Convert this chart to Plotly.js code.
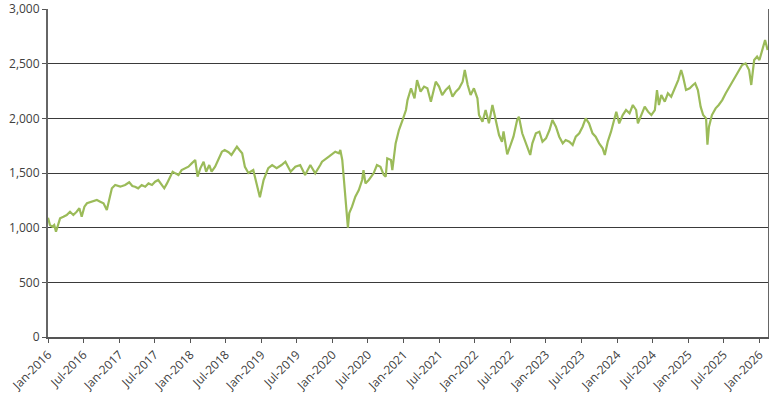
<!DOCTYPE html>
<html>
<head>
<meta charset="utf-8">
<script src="https://cdn.plot.ly/plotly-3.0.1.min.js"></script>
<style>
html,body{margin:0;padding:0;background:#fff;}
#chart{width:769px;height:398px;}
</style>
</head>
<body>
<div id="chart"></div>
<script>
const dates = [
"2016-01-01","2016-01-11","2016-01-23","2016-02-02","2016-02-11","2016-02-23","2016-03-03","2016-03-20","2016-04-06","2016-04-23",
"2016-05-10","2016-05-27","2016-06-10","2016-06-22","2016-07-06","2016-07-19","2016-08-13","2016-09-08","2016-09-25","2016-10-12",
"2016-10-29","2016-11-10","2016-11-24","2016-12-11","2017-01-06","2017-01-31","2017-02-21","2017-03-09","2017-03-23","2017-04-08",
"2017-04-26","2017-05-14","2017-05-31","2017-06-18","2017-07-04","2017-07-20","2017-08-08","2017-08-20","2017-09-03","2017-09-20",
"2017-10-02","2017-10-16","2017-11-01","2017-11-17","2017-12-05","2017-12-22","2018-01-08","2018-01-26","2018-02-07","2018-02-21",
"2018-03-10","2018-03-23","2018-04-08","2018-04-20","2018-05-08","2018-05-26","2018-06-12","2018-06-26","2018-07-16","2018-07-31",
"2018-08-28","2018-09-10","2018-09-24","2018-10-08","2018-10-26","2018-11-20","2018-12-17","2018-12-24","2019-01-12","2019-02-05",
"2019-02-25","2019-03-20","2019-04-14","2019-05-04","2019-05-31","2019-06-24","2019-07-19","2019-08-13","2019-09-09","2019-10-04",
"2019-10-30","2019-11-08","2019-12-13","2020-01-15","2020-02-03","2020-02-10","2020-02-20","2020-02-27","2020-03-06","2020-03-16",
"2020-03-20","2020-03-27","2020-04-10","2020-04-27","2020-05-15","2020-06-01","2020-06-08","2020-06-18","2020-07-05","2020-07-30",
"2020-08-16","2020-09-03","2020-09-20","2020-09-30","2020-10-08","2020-10-27","2020-11-03","2020-11-20","2020-12-07","2020-12-26",
"2021-01-12","2021-01-20","2021-02-07","2021-02-25","2021-03-10","2021-03-28","2021-04-15","2021-05-02","2021-05-20","2021-06-14",
"2021-07-01","2021-07-17","2021-08-04","2021-08-22","2021-09-08","2021-09-25","2021-10-12","2021-10-30","2021-11-10","2021-11-25",
"2021-12-10","2021-12-27","2022-01-14","2022-01-22","2022-02-09","2022-02-25","2022-03-14","2022-04-01","2022-04-16","2022-05-05",
"2022-05-20","2022-05-28","2022-06-16","2022-07-01","2022-07-18","2022-08-06","2022-08-15","2022-09-01","2022-09-20","2022-10-05",
"2022-10-12","2022-10-23","2022-11-10","2022-11-28","2022-12-14","2023-01-01","2023-01-19","2023-02-03","2023-02-21","2023-03-10",
"2023-03-28","2023-04-12","2023-05-01","2023-05-18","2023-06-03","2023-06-21","2023-07-08","2023-07-24","2023-08-10","2023-08-28",
"2023-09-13","2023-10-01","2023-10-19","2023-10-30","2023-11-14","2023-12-01","2023-12-19","2023-12-28","2024-01-12","2024-01-30",
"2024-02-16","2024-03-05","2024-03-22","2024-04-08","2024-04-17","2024-05-04","2024-05-22","2024-06-08","2024-06-25","2024-07-13",
"2024-07-24","2024-08-03","2024-08-15","2024-09-02","2024-09-18","2024-10-05","2024-10-23","2024-11-10","2024-11-25","2024-12-05",
"2024-12-20","2025-01-08","2025-01-25","2025-02-05","2025-02-19","2025-03-05","2025-03-18","2025-04-02","2025-04-09","2025-04-17",
"2025-05-02","2025-05-21","2025-06-06","2025-06-24","2025-07-12","2025-07-27","2025-08-14","2025-09-01","2025-09-19","2025-10-04",
"2025-10-22","2025-11-09","2025-11-20","2025-12-05","2025-12-20","2026-01-01","2026-01-18","2026-01-30","2026-02-12"
];
const values = [
1090,1024,1009,1024,963,1024,1085,1100,1116,1146,
1116,1146,1177,1100,1192,1223,1238,1253,1238,1223,
1161,1268,1360,1390,1375,1390,1415,1381,1375,1360,
1390,1375,1405,1390,1420,1436,1390,1360,1405,1466,
1512,1497,1482,1527,1543,1558,1588,1619,1466,1543,
1603,1512,1573,1512,1558,1634,1695,1710,1690,1665,
1740,1710,1680,1557,1500,1527,1344,1278,1436,1545,
1573,1545,1573,1603,1512,1557,1573,1482,1573,1497,
1573,1603,1649,1695,1680,1710,1619,1466,1344,1100,
1000,1134,1192,1283,1344,1436,1527,1405,1436,1497,
1573,1557,1482,1466,1634,1619,1527,1771,1893,1985,
2076,2167,2275,2183,2350,2244,2290,2275,2152,2335,
2290,2213,2259,2290,2198,2244,2275,2335,2442,2305,
2213,2275,2183,2030,1969,2076,1954,2122,2000,1847,
1786,1880,1670,1740,1832,1985,2015,1863,1771,1680,
1665,1771,1863,1878,1786,1817,1893,1985,1923,1832,
1771,1802,1786,1756,1832,1863,1923,2000,1954,1863,
1832,1771,1726,1665,1786,1878,2000,2061,1954,2030,
2076,2046,2122,2076,1954,2030,2107,2061,2030,2076,
2259,2122,2213,2152,2229,2198,2275,2350,2442,2381,
2259,2275,2305,2320,2259,2107,2030,2000,1760,1923,
2030,2091,2122,2167,2229,2275,2335,2381,2442,2488,
2503,2442,2305,2533,2564,2533,2640,2716,2625
];
const yTickVals = [0,500,1000,1500,2000,2500,3000];
const xRange = ["2016-01-01","2026-02-14"];

const trace = {
  x: dates, y: values, type: "scatter", mode: "lines",
  line: {color: "#9bbb59", width: 2.2},
  hoverinfo: "skip"
};
const layout = {
  width: 769, height: 398,
  margin: {l: 48, r: 1, t: 9, b: 61},
  paper_bgcolor: "#fff", plot_bgcolor: "#fff",
  showlegend: false,
  font: {family: "Open Sans, sans-serif", size: 12, color: "#404040"},
  xaxis: {
    type: "date", range: xRange,
    tick0: "2016-01-01", dtick: "M6", tickformat: "%b-%Y", tickangle: -45,
    ticks: "outside", ticklen: 4, tickcolor: "#555", tickwidth: 1,
    showgrid: false, zeroline: false,
    showline: true, linecolor: "#555", linewidth: 2,
    tickfont: {size: 12, color: "#404040"}
  },
  yaxis: {
    range: [0, 3000], tickvals: yTickVals, tickformat: ",d",
    ticks: "outside", ticklen: 4, tickcolor: "#555", tickwidth: 1,
    showgrid: true, gridcolor: "#3a3a3a", gridwidth: 1,
    zeroline: false,
    showline: true, linecolor: "#666", linewidth: 2, mirror: true,
    tickfont: {size: 12, color: "#404040"}
  }
};
Plotly.newPlot("chart", [trace], layout, {staticPlot: true, displayModeBar: false});
</script>
</body>
</html>
